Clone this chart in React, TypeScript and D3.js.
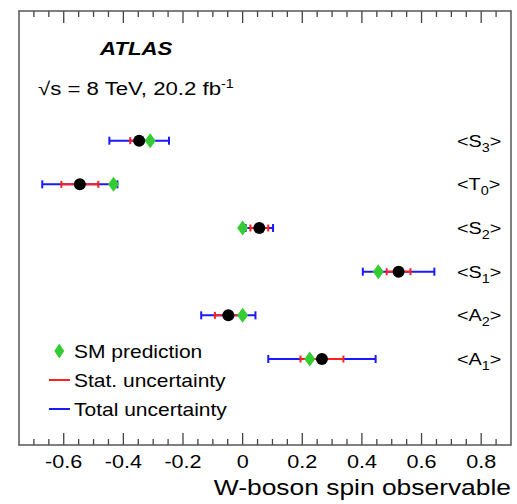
import React from "react";
import * as d3 from "d3";

const observables = ["S", "T", "S", "S", "A", "A"];
const subscripts = ["3", "0", "2", "1", "2", "1"];
const measured = [-0.347, -0.546, 0.056, 0.523, -0.048, 0.266];
const statUnc = [0.03, 0.062, 0.03, 0.04, 0.045, 0.072];
const totalUnc = [0.1, 0.126, 0.046, 0.12, 0.091, 0.18];
const smPrediction = [-0.31, -0.433, 0.0, 0.455, 0.0, 0.225];
const majorTicks = [-0.6, -0.4, -0.2, 0, 0.2, 0.4, 0.6, 0.8];
const legendLabels = ["SM prediction", "Stat. uncertainty", "Total uncertainty"];

const W = 517;
const H = 504;
const FL = 19, FR = 511, FT = 11, FB = 445;
const SX = 1.2;
const FONT = "'Liberation Sans', Arial, Helvetica, sans-serif";

function SText({ x, y, size, anchor = "start", weight = "normal", italic = false, children }: any) {
  return (
    <text
      transform={`translate(${x},${y}) scale(${SX},1)`}
      fontSize={size}
      textAnchor={anchor}
      fontWeight={weight}
      fontStyle={italic ? "italic" : "normal"}
      fontFamily={FONT}
      fill="#000"
    >
      {children}
    </text>
  );
}

export default function App() {
  const x = d3.scaleLinear().domain([-0.75, 0.9]).range([FL, FR]);
  const y = d3.scaleLinear().domain([0, 5]).range([140.7, 359]);
  const minorTicks = d3.range(-0.75, 0.9001, 0.05).map((v) => Math.round(v * 100) / 100);
  const blue = "#1a1aff";
  const red = "#ff2020";
  const green = "#33cc33";
  const diamond = (cx: number, cy: number, hw: number, hh: number) =>
    `M${cx},${cy - hh}L${cx + hw},${cy}L${cx},${cy + hh}L${cx - hw},${cy}Z`;

  return (
    <svg width={W} height={H} style={{ position: "absolute", left: 0, top: 0 }}>
      <rect x={0} y={0} width={W} height={H} fill="#fff" />
      {minorTicks.map((v, i) => {
        const isMajor = majorTicks.some((m) => Math.abs(m - v) < 1e-6);
        const len = isMajor ? 12 : 6;
        if (v <= -0.75 || v >= 0.9) return null;
        return (
          <g key={"t" + i} stroke="#444" strokeWidth={1.3}>
            <line x1={x(v)} x2={x(v)} y1={FB} y2={FB - len} />
            <line x1={x(v)} x2={x(v)} y1={FT} y2={FT + len} />
          </g>
        );
      })}
      <rect x={FL} y={FT} width={FR - FL} height={FB - FT} fill="none" stroke="#555" strokeWidth={1.5} />
      {majorTicks.map((v) => (
        <SText key={"l" + v} x={x(v)} y={468} size={18} anchor="middle">
          {d3.format("")(v === 0 ? 0 : v).replace("−", "-")}
        </SText>
      ))}
      <SText x={FR} y={495} size={22} anchor="end">W-boson spin observable</SText>
      <SText x={100} y={55} size={18.5} weight="bold" italic>ATLAS</SText>
      <SText x={38} y={95} size={18.5}>
        √s = 8 TeV, 20.2 fb<tspan dy={-7} fontSize={12}>-1</tspan>
      </SText>
      {measured.map((m, i) => {
        const cy = y(i);
        const bl = x(m - totalUnc[i]);
        const br = x(m + totalUnc[i]);
        const rl = x(m - statUnc[i]);
        const rr = x(m + statUnc[i]);
        return (
          <g key={"d" + i}>
            <line x1={bl} x2={br} y1={cy} y2={cy} stroke={blue} strokeWidth={2} />
            <line x1={bl} x2={bl} y1={cy - 4} y2={cy + 4} stroke={blue} strokeWidth={2} />
            <line x1={br} x2={br} y1={cy - 4} y2={cy + 4} stroke={blue} strokeWidth={2} />
            <line x1={rl} x2={rr} y1={cy} y2={cy} stroke={red} strokeWidth={2} />
            <line x1={rl} x2={rl} y1={cy - 3.5} y2={cy + 3.5} stroke={red} strokeWidth={2} />
            <line x1={rr} x2={rr} y1={cy - 3.5} y2={cy + 3.5} stroke={red} strokeWidth={2} />
            <circle cx={x(m)} cy={cy} r={6} fill="#000" />
            <path d={diamond(x(smPrediction[i]), cy, 5.5, 7.5)} fill={green} />
            <SText x={457} y={cy + 6} size={16.5}>
              {"<" + observables[i]}
              <tspan dy={5} fontSize={12}>{subscripts[i]}</tspan>
              <tspan dy={-5}>{">"}</tspan>
            </SText>
          </g>
        );
      })}
      <path d={diamond(59.3, 351, 5, 7.5)} fill={green} />
      <SText x={74} y={357.5} size={17.5}>{legendLabels[0]}</SText>
      <line x1={49} x2={70} y1={380} y2={380} stroke={red} strokeWidth={2} />
      <SText x={74} y={386.5} size={17.5}>{legendLabels[1]}</SText>
      <line x1={49} x2={70} y1={409} y2={409} stroke={blue} strokeWidth={2} />
      <SText x={74} y={415.5} size={17.5}>{legendLabels[2]}</SText>
    </svg>
  );
}
